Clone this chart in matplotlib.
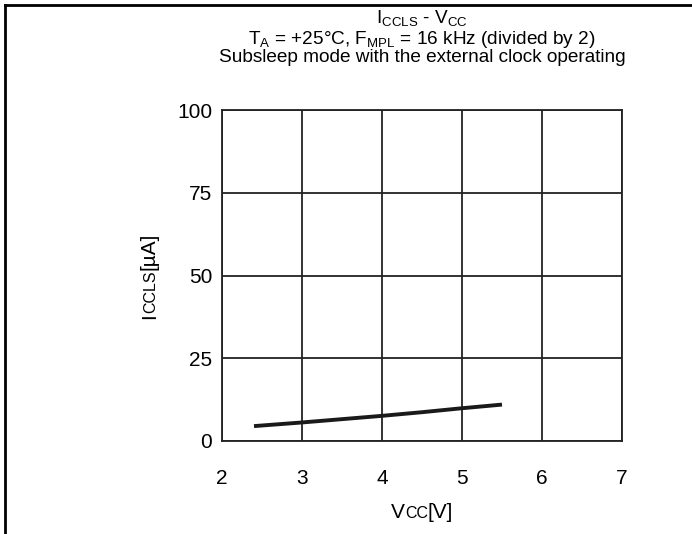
import matplotlib
matplotlib.use('Agg')
import matplotlib.pyplot as plt

plt.rcParams['font.family'] = ['Liberation Sans', 'DejaVu Sans']
plt.rcParams['mathtext.fontset'] = 'custom'
plt.rcParams['mathtext.rm'] = 'Liberation Sans'
plt.rcParams['mathtext.it'] = 'Liberation Sans'

# data
vcc = [2.4, 3.0, 3.5, 4.0, 4.5, 5.0, 5.5]
iccls = [4.5, 5.6, 6.6, 7.6, 8.7, 9.9, 11.0]
x_ticks = [2, 3, 4, 5, 6, 7]
y_ticks = [0, 25, 50, 75, 100]

W, H = 692, 534
fig = plt.figure(figsize=(W / 100, H / 100), dpi=100)
ax = fig.add_axes([222 / W, 1 - 441 / H, 400 / W, 331 / H])

ax.plot(vcc, iccls, color='#1a1a1a', lw=2.8, solid_capstyle='butt')
ax.set_xlim(2, 7)
ax.set_ylim(0, 100)
ax.set_xticks(x_ticks)
ax.set_yticks(y_ticks)
ax.grid(True, color='#222222', lw=1.3)
for s in ax.spines.values():
    s.set_color('#222222')
    s.set_linewidth(1.3)
ax.tick_params(axis='x', length=0, pad=20, labelsize=15)
ax.tick_params(axis='y', length=0, pad=7, labelsize=15)

# outer frame (top and left lines)
fig.add_artist(plt.Line2D([5 / W, 1], [1 - 5 / H, 1 - 5 / H], color='black', lw=2))
fig.add_artist(plt.Line2D([5 / W, 5 / W], [0, 1 - 5 / H], color='black', lw=2))

cx = 422 / W
fig.text(cx, 1 - 18 / H, r'I$_{\rm CCLS}$ - V$_{\rm CC}$', ha='center', va='center', fontsize=13.7)
fig.text(cx, 1 - 39 / H, r'T$_{\rm A}$ = +25°C, F$_{\rm MPL}$ = 16 kHz (divided by 2)',
         ha='center', va='center', fontsize=13.7)
fig.text(cx, 1 - 58 / H, 'Subsleep mode with the external clock operating',
         ha='center', va='center', fontsize=13.7)

fig.canvas.draw()
renderer = fig.canvas.get_renderer()


def piece_label(parts, x, y, rotation=0):
    # parts: list of (text, size); centred on (x, y) in pixels from top-left
    arts = []
    widths = []
    for txt, size in parts:
        t = fig.text(0, 0, txt, fontsize=size, ha='left', va='baseline',
                     rotation_mode='anchor')
        widths.append(t.get_window_extent(renderer).width)
        t.set_rotation(rotation)
        arts.append(t)
    pos = -sum(widths) / 2
    for t, w in zip(arts, widths):
        if rotation == 0:
            t.set_position(((x + pos) / W, (H - y) / H))
        else:
            t.set_position((x / W, (H - y + pos) / H))
        pos += w


piece_label([('V', 15), ('CC', 11.5), ('[V]', 15)], 422, 518)
piece_label([('I', 15), ('CCLS', 11.5), ('[µA]', 15)], 155, 276, rotation=90)

fig.savefig('out.png', dpi=100)
